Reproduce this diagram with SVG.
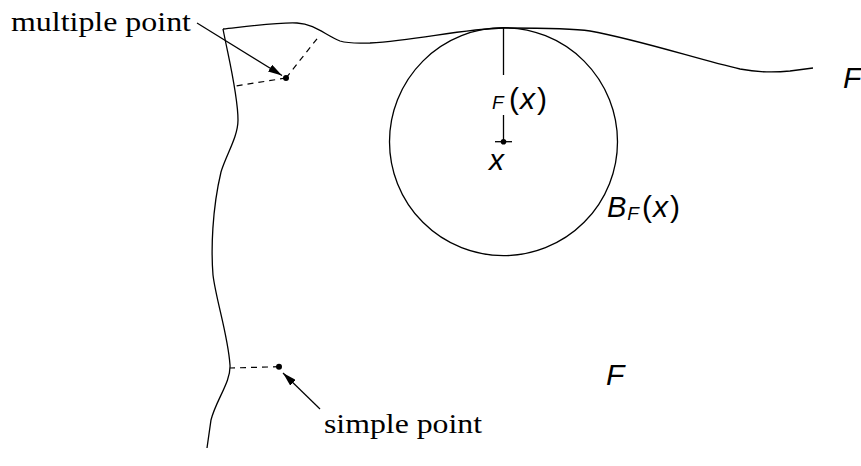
<svg xmlns="http://www.w3.org/2000/svg" width="861" height="466" viewBox="0 0 861 466">
<defs>
<style>
.ln{fill:none;stroke:#000;stroke-width:1.3}
.dash{fill:none;stroke:#000;stroke-width:1.2;stroke-dasharray:6 5}
.arr{fill:none;stroke:#000;stroke-width:1.2;marker-end:url(#ah)}
.serif{font-family:"Liberation Serif","Times New Roman",serif;font-size:27px;fill:#000}
.sans{font-family:"Liberation Sans",Arial,sans-serif;font-size:30px;fill:#000}
.it{font-style:italic}
</style>
<marker id="ah" viewBox="0 0 14 8" refX="14" refY="4" markerWidth="14" markerHeight="8" markerUnits="userSpaceOnUse" orient="auto">
<path d="M0,0 L14,4 L0,8 Z" fill="#000"/>
</marker>
</defs>
<rect width="861" height="466" fill="#fff"/>
<g id="boundary">
<path class="ln" d="M223,29 C250,26 280,22 297,23 C315,24 325,35 340,41 C350,44 360,43 370,43 C420,40 460,29 505,28 C540,28 570,28 590,31 C640,40 700,60 740,69 C755,72 770,73 790,71 L813,68"/>
<path class="ln" d="M223,29 C229,60 238,95 238,120 C238,137 226,155 221,172 C212,210 211,250 213,275 C216,300 228,335 230,365 C231,382 216,400 211,420 L207,448"/>
</g>
<g id="ball">
<circle class="ln" cx="503.5" cy="141.7" r="114"/>
<line class="ln" x1="503.5" y1="28" x2="503.5" y2="75"/>
<line class="ln" x1="503.5" y1="115" x2="503.5" y2="141.7"/>
<line class="ln" x1="495" y1="141.7" x2="512" y2="141.7"/>
<circle cx="503.5" cy="141.7" r="2.8" fill="#000"/>
<text class="sans" y="109"><tspan x="492" class="it" font-size="19">F</tspan><tspan x="509">(</tspan><tspan class="it" dx="1">x</tspan><tspan dx="2">)</tspan></text>
<text class="sans it" x="489" y="170" font-size="33">x</text>
<text class="sans" y="217"><tspan x="607" class="it" font-size="29">B</tspan><tspan class="it" font-size="19" dy="3" dx="1">F</tspan><tspan dy="-3" x="642">(</tspan><tspan class="it" dx="1">x</tspan><tspan dx="2">)</tspan></text>
</g>
<g id="multiple-point">
<circle cx="286" cy="78" r="3" fill="#000"/>
<line class="dash" x1="286" y1="78" x2="236" y2="86"/>
<line class="dash" x1="286" y1="78" x2="320" y2="35"/>
</g>
<g id="simple-point">
<circle cx="279" cy="366.7" r="3" fill="#000"/>
<line class="dash" x1="279" y1="366.7" x2="230" y2="368"/>
</g>
<g id="labels">
<text class="serif" x="11" y="31" textLength="180" lengthAdjust="spacingAndGlyphs">multiple point</text>
<text class="serif" x="324" y="433" textLength="158" lengthAdjust="spacingAndGlyphs">simple point</text>
<text class="sans it" x="843" y="88" font-size="31">F</text>
<text class="sans it" x="606" y="385" font-size="31">F</text>
</g>
<g id="connectors">
<line class="arr" x1="197" y1="23" x2="282" y2="75.5"/>
<line class="arr" x1="320" y1="409" x2="283" y2="373"/>
</g>
</svg>
